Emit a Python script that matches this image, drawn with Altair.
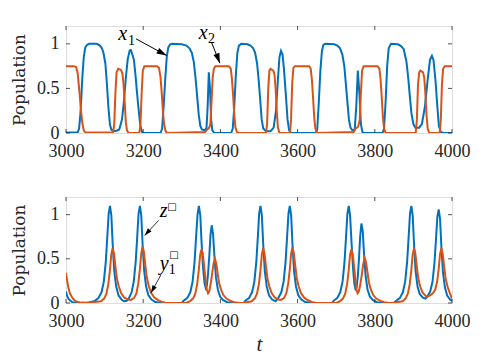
import altair as alt
import pandas as pd

BLUE = "#0072BD"
ORANGE = "#D95319"
AX = "#262626"

XTICKS = [3000, 3200, 3400, 3600, 3800, 4000]
YTICKS = [0, 0.5, 1]

# ---------------- top panel: x1 (blue) ----------------
X1_T = [3000, 3030, 3034, 3038, 3042, 3046, 3050, 3055, 3060, 3080, 3088, 3093, 3097, 3102, 3106, 3110,
        3114, 3118, 3128, 3138, 3145, 3150, 3155, 3160, 3165, 3168, 3172, 3176, 3180, 3184, 3188, 3192,
        3196, 3200, 3245, 3249, 3253, 3257, 3261, 3265, 3270, 3275, 3300, 3312, 3320, 3326, 3331, 3336,
        3340, 3344, 3348, 3352, 3360, 3364, 3367, 3370, 3373, 3376, 3379, 3384, 3428, 3432, 3436, 3440,
        3444, 3448, 3454, 3470, 3478, 3485, 3490, 3495, 3499, 3503, 3507, 3511, 3518, 3530, 3538, 3544,
        3549, 3553, 3557, 3561, 3565, 3570, 3574, 3578, 3583, 3648, 3651, 3655, 3659, 3663, 3667, 3672,
        3695, 3703, 3710, 3716, 3721, 3725, 3729, 3733, 3737, 3742, 3748, 3752, 3756, 3760, 3764, 3768,
        3772, 3820, 3824, 3828, 3832, 3836, 3842, 3860, 3868, 3875, 3882, 3887, 3891, 3895, 3900, 3905,
        3915, 3922, 3930, 3937, 3943, 3948, 3952, 3957, 3962, 3966, 3971, 3980, 4000]
X1_V = [0.005, 0.005, 0.05, 0.25, 0.6, 0.85, 0.96, 0.99, 1.0, 1.0, 0.98, 0.95, 0.9, 0.78, 0.55, 0.28,
        0.09, 0.035, 0.02, 0.04, 0.15, 0.35, 0.62, 0.83, 0.925, 0.93, 0.88, 0.82, 0.65, 0.45, 0.27, 0.1,
        0.02, 0.0, 0.0, 0.05, 0.3, 0.6, 0.85, 0.96, 0.995, 1.0, 0.995, 0.98, 0.95, 0.9, 0.8, 0.6,
        0.4, 0.2, 0.08, 0.04, 0.03, 0.06, 0.3, 0.68, 0.5, 0.15, 0.03, 0.0, 0.0, 0.05, 0.3, 0.65,
        0.9, 0.98, 1.0, 0.995, 0.98, 0.95, 0.9, 0.78, 0.6, 0.38, 0.15, 0.05, 0.02, 0.02, 0.06, 0.25,
        0.6, 0.85, 0.92, 0.88, 0.7, 0.4, 0.15, 0.03, 0.0, 0.0, 0.05, 0.35, 0.7, 0.92, 0.99, 1.0,
        0.995, 0.98, 0.95, 0.88, 0.75, 0.55, 0.35, 0.15, 0.06, 0.03, 0.04, 0.3, 0.70, 0.45, 0.1, 0.01,
        0.0, 0.0, 0.05, 0.35, 0.75, 0.95, 1.0, 0.995, 0.975, 0.94, 0.8, 0.6, 0.4, 0.22, 0.1, 0.06,
        0.06, 0.1, 0.3, 0.6, 0.82, 0.865, 0.82, 0.6, 0.3, 0.08, 0.01, 0.0, 0.0]

# ---------------- top panel: x2 (orange) ----------------
X2_T = [3000, 3020, 3026, 3030, 3034, 3038, 3042, 3046, 3050, 3122, 3125, 3128, 3131, 3135, 3142, 3146,
        3149, 3152, 3155, 3158, 3162, 3190, 3193, 3196, 3199, 3203, 3236, 3241, 3245, 3248, 3251, 3254,
        3258, 3262, 3360, 3366, 3371, 3374, 3377, 3380, 3383, 3387, 3422, 3427, 3430, 3433, 3436, 3439,
        3443, 3447, 3518, 3521, 3524, 3527, 3530, 3537, 3540, 3543, 3546, 3549, 3553, 3580, 3583, 3586,
        3589, 3593, 3630, 3634, 3637, 3640, 3643, 3646, 3650, 3745, 3750, 3757, 3761, 3764, 3767, 3771,
        3807, 3812, 3815, 3818, 3821, 3824, 3828, 3906, 3909, 3912, 3915, 3918, 3925, 3928, 3931, 3934,
        3937, 3941, 3968, 3971, 3974, 3977, 3981, 4000]
X2_V = [0.75, 0.75, 0.74, 0.68, 0.5, 0.3, 0.12, 0.03, 0.005, 0.005, 0.1, 0.45, 0.68, 0.72, 0.71, 0.67,
        0.55, 0.35, 0.12, 0.03, 0.0, 0.0, 0.1, 0.45, 0.7, 0.75, 0.75, 0.73, 0.62, 0.45, 0.25, 0.1,
        0.02, 0.0, 0.01, 0.04, 0.06, 0.1, 0.35, 0.62, 0.72, 0.75, 0.75, 0.72, 0.6, 0.42, 0.2, 0.06,
        0.01, 0.0, 0.0, 0.1, 0.5, 0.7, 0.72, 0.70, 0.66, 0.5, 0.25, 0.06, 0.0, 0.0, 0.15, 0.55,
        0.73, 0.75, 0.75, 0.72, 0.6, 0.4, 0.18, 0.05, 0.0, 0.01, 0.05, 0.07, 0.15, 0.45, 0.7, 0.75,
        0.75, 0.72, 0.6, 0.4, 0.18, 0.05, 0.0, 0.0, 0.15, 0.55, 0.68, 0.70, 0.68, 0.62, 0.45, 0.2,
        0.05, 0.0, 0.0, 0.15, 0.55, 0.72, 0.75, 0.75]

# ---------------- bottom panel: z (blue) ----------------
Z_T = [3000, 3003, 3006, 3010, 3016, 3025, 3060, 3074, 3084, 3092, 3098, 3103, 3107, 3110.5, 3114, 3117.5,
       3121, 3125, 3130, 3136, 3144, 3150, 3157, 3162, 3170, 3175.5, 3180.5, 3184.5, 3188, 3191.5, 3195,
       3198.5, 3202.5, 3207.5, 3213.5, 3221.5, 3231.5, 3245, 3300, 3304, 3314, 3322, 3328, 3333, 3337,
       3341, 3344.3, 3348, 3351, 3355, 3359, 3362, 3365, 3368, 3371.5, 3374.5, 3377.5, 3381, 3384.5,
       3388.5, 3393.5, 3399.5, 3407.5, 3417.5, 3430, 3460, 3464, 3474, 3482, 3488, 3493, 3497, 3500.4,
       3503.9, 3507.4, 3511, 3515, 3520, 3526, 3534, 3543, 3549.8, 3557.8, 3563.8, 3568.8, 3572.8, 3576.3,
       3579.8, 3583.3, 3586.8, 3590.8, 3595.8, 3601.8, 3609.8, 3619.8, 3635, 3690, 3692.5, 3702.5, 3710.5,
       3716.5, 3721.5, 3725.5, 3729, 3732.5, 3736, 3739.5, 3743.5, 3747, 3750, 3753, 3756, 3759, 3762,
       3765.3, 3768.8, 3772.3, 3776.3, 3781.3, 3787.3, 3795.3, 3805.3, 3820, 3850, 3854.7, 3864.7, 3872.7,
       3878.7, 3883.7, 3887.7, 3891.2, 3894.7, 3898.2, 3901.7, 3905.7, 3910.7, 3916.7, 3924.7, 3931, 3936,
       3943.5, 3949.5, 3954.5, 3958.5, 3962, 3965.5, 3969, 3972.5, 3976.5, 3981.5, 3987.5, 3995.5, 4000]
Z_V = [0.13, 0.08, 0.05, 0.03, 0.01, 0.0, 0.005, 0.022, 0.055, 0.121, 0.242, 0.462, 0.748, 1.012, 1.1, 0.99,
       0.66, 0.363, 0.187, 0.088, 0.039, 0.02, 0.025, 0.045, 0.121, 0.242, 0.462, 0.748, 1.012, 1.1, 0.99,
       0.66, 0.363, 0.187, 0.088, 0.039, 0.011, 0.0, 0.0, 0.022, 0.055, 0.121, 0.242, 0.462, 0.748,
       1.012, 1.1, 0.99, 0.7, 0.4, 0.22, 0.17, 0.2, 0.33, 0.55, 0.78, 0.88, 0.78, 0.53,
       0.29, 0.15, 0.07, 0.031, 0.009, 0.0, 0.0, 0.022, 0.055, 0.121, 0.242, 0.462, 0.748, 1.012,
       1.1, 0.99, 0.66, 0.363, 0.187, 0.088, 0.039, 0.02, 0.055, 0.121, 0.242, 0.462, 0.748, 1.012,
       1.1, 0.99, 0.66, 0.363, 0.187, 0.088, 0.039, 0.011, 0.0, 0.0, 0.022, 0.055, 0.121,
       0.242, 0.462, 0.748, 1.012, 1.1, 0.99, 0.7, 0.4, 0.22, 0.16, 0.18, 0.3, 0.5, 0.75,
       0.9, 0.81, 0.54, 0.3, 0.15, 0.072, 0.032, 0.009, 0.0, 0.0, 0.022, 0.055, 0.121,
       0.242, 0.462, 0.748, 1.012, 1.1, 0.99, 0.66, 0.363, 0.187, 0.1, 0.06, 0.05, 0.07,
       0.13, 0.24, 0.45, 0.72, 0.975, 1.06, 0.954, 0.636, 0.35, 0.18, 0.085, 0.037, 0.025]

# ---------------- bottom panel: y1 (orange) ----------------
Y1_T = [3000, 3003, 3006, 3010, 3015, 3020, 3025, 3035, 3050, 3090.8, 3098.8, 3104.8, 3109.8, 3113.8, 3117.3,
        3120.8, 3124.3, 3127.8, 3131.8, 3136.8, 3142.8, 3150.8, 3160.8, 3168.4, 3176.4, 3182.4, 3187.4,
        3191.4, 3194.9, 3198.4, 3201.9, 3205.4, 3209.4, 3214.4, 3220.4, 3228.4, 3238.4, 3248.4, 3258.4,
        3270, 3310, 3321, 3329, 3335, 3340, 3344, 3347.7, 3351.2, 3354.7, 3358, 3362, 3365, 3368, 3371,
        3374, 3378, 3382, 3385.7, 3389.2, 3392.7, 3396.7, 3401.7, 3407.7, 3415.7, 3425.7, 3435.7, 3445.7,
        3460, 3480.8, 3488.8, 3494.8, 3499.8, 3503.8, 3507.3, 3510.8, 3514.3, 3517.8, 3521.8, 3526.8,
        3532.8, 3540.8, 3550.8, 3556.7, 3564.7, 3570.7, 3575.7, 3579.7, 3583.2, 3586.7, 3590.2, 3593.7,
        3597.7, 3602.7, 3608.7, 3616.7, 3626.7, 3636.7, 3646.7, 3660, 3700, 3709.4, 3717.4, 3723.4, 3728.4,
        3732.4, 3735.9, 3739.4, 3742.9, 3746.4, 3750, 3753, 3755.5, 3758.5, 3762, 3766, 3770, 3773.9,
        3777.4, 3780.9, 3784.9, 3789.9, 3795.9, 3803.9, 3813.9, 3823.9, 3833.9, 3845, 3871.6, 3879.6,
        3885.6, 3890.6, 3894.6, 3898.1, 3901.6, 3905.1, 3908.6, 3912.6, 3917.6, 3923.6, 3931.6, 3936,
        3942.4, 3950.4, 3956.4, 3961.4, 3965.4, 3968.9, 3972.4, 3975.9, 3979.4, 3983.4, 3988.4, 3994.4, 4000]
Y1_V = [0.34, 0.25, 0.18, 0.11, 0.07, 0.04, 0.02, 0.006, 0.0, 0.019, 0.05, 0.105, 0.217, 0.372, 0.546,
        0.62, 0.558, 0.422, 0.279, 0.186, 0.112, 0.062, 0.04, 0.035, 0.058, 0.109, 0.224,
        0.384, 0.563, 0.64, 0.576, 0.435, 0.288, 0.192, 0.115, 0.064, 0.032, 0.013, 0.003,
        0.0, 0.0, 0.019, 0.05, 0.105, 0.217, 0.372, 0.546, 0.61, 0.55, 0.41, 0.25, 0.15, 0.11, 0.13,
        0.2, 0.31, 0.44, 0.50, 0.45, 0.34, 0.225, 0.15, 0.09, 0.05, 0.025, 0.01, 0.002,
        0.0, 0.019, 0.05, 0.105, 0.217, 0.372, 0.546, 0.62, 0.558, 0.422, 0.279, 0.186,
        0.112, 0.062, 0.04, 0.035, 0.055, 0.107, 0.22, 0.378, 0.555, 0.63, 0.567, 0.428,
        0.284, 0.189, 0.113, 0.063, 0.031, 0.012, 0.003, 0.0, 0.0, 0.019, 0.05, 0.105, 0.217,
        0.372, 0.546, 0.61, 0.55, 0.41, 0.25, 0.14, 0.11, 0.13, 0.2, 0.31, 0.44, 0.51,
        0.46, 0.35, 0.23, 0.15, 0.09, 0.05, 0.025, 0.01, 0.002, 0.0, 0.019, 0.05,
        0.105, 0.217, 0.372, 0.546, 0.62, 0.558, 0.422, 0.279, 0.186, 0.12, 0.08, 0.075,
        0.085, 0.11, 0.15, 0.24, 0.38, 0.55, 0.62, 0.558, 0.422, 0.279, 0.186, 0.112, 0.05]

# ---------------- annotations ----------------
TOP_LETTERS = ["x", "x"]
TOP_LETTER_T = [3146.7, 3355.1]
TOP_LETTER_V = [1.045, 1.056]
TOP_SUBS = ["1", "2"]
TOP_SUB_T = [3170, 3377.1]
TOP_SUB_V = [0.985, 1.005]
TOP_ARROW_T = [3181.4, 3377.1]
TOP_ARROW_V = [1.056, 1.015]
TOP_ARROW_T2 = [3260.6, 3398.6]
TOP_ARROW_V2 = [0.869, 0.783]
TOP_ARROW_ANG = [118, 160]

BOT_LETTERS = ["z", "y"]
BOT_LETTER_T = [3252.8, 3254.5]
BOT_LETTER_V = [0.969, 0.374]
BOT_SUBS = ["1"]
BOT_SUB_T = [3275]
BOT_SUB_V = [0.33]
BOT_SUPS = ["□", "□"]
BOT_SUP_T = [3274.5, 3280]
BOT_SUP_V = [1.089, 0.54]
BOT_ARROW_T = [3239.9, 3245.9]
BOT_ARROW_V = [0.935, 0.317]
BOT_ARROW_T2 = [3203.7, 3220]
BOT_ARROW_V2 = [0.763, 0.114]
BOT_ARROW_ANG = [222, 209]

W = 386
H_TOP = 107
H_BOT = 106

XS = alt.Scale(domain=[3000, 4000], nice=False, zero=False)
YS = alt.Scale(domain=[0, 1.2], nice=False, zero=False)

TICK_FONT = "Liberation Serif"


def xaxis(title):
    kw = dict(values=XTICKS, labelExpr="datum.value", ticks=False, domain=False, grid=False,
              labelFlush=False, labelOverlap=False,
              labelFont=TICK_FONT, labelFontSize=18, labelColor=AX, labelPadding=9)
    if title:
        kw.update(title=title, titleFont="Liberation Serif", titleFontStyle="italic",
                  titleFontSize=21, titleFontWeight="normal", titleColor=AX, titlePadding=3)
    else:
        kw.update(title=None)
    return alt.Axis(**kw)


def yaxis():
    return alt.Axis(values=YTICKS, labelExpr="datum.value", ticks=False, domain=False, grid=False,
                    labelFlush=False, labelOverlap=False,
                    labelFont=TICK_FONT, labelFontSize=18, labelColor=AX, labelPadding=7,
                    title="Population", titleFont="DejaVu Serif", titleFontSize=17,
                    titleFontWeight="normal", titleColor=AX, titlePadding=8)


def panel(series, letters, subs, sups, arrows, height, xtitle):
    X = lambda f="t": alt.X(f + ":Q", scale=XS, axis=xaxis(xtitle))
    Y = lambda f="v": alt.Y(f + ":Q", scale=YS, axis=yaxis())
    layers = []
    for t, v, col in series:
        d = pd.DataFrame({"t": t, "v": v})
        layers.append(alt.Chart(d).mark_line(color=col, strokeWidth=2, clip=True)
                      .encode(x=X(), y=Y()))
    # inward ticks on all four sides
    xt = pd.DataFrame({"t": XTICKS})
    yt = pd.DataFrame({"v": YTICKS})
    layers.append(alt.Chart(xt).mark_rule(color=AX, strokeWidth=0.8)
                  .encode(x=X(), y=alt.value(height), y2=alt.value(height - 4)))
    layers.append(alt.Chart(xt).mark_rule(color=AX, strokeWidth=0.8)
                  .encode(x=X(), y=alt.value(0), y2=alt.value(4)))
    layers.append(alt.Chart(yt).mark_rule(color=AX, strokeWidth=0.8)
                  .encode(y=Y(), x=alt.value(0), x2=alt.value(4)))
    layers.append(alt.Chart(yt).mark_rule(color=AX, strokeWidth=0.8)
                  .encode(y=Y(), x=alt.value(W - 4), x2=alt.value(W)))
    # arrows
    at, av, at2, av2, ang, aw, hs = arrows
    ad = pd.DataFrame({"t": at, "v": av, "t2": at2, "v2": av2, "ang": ang})
    layers.append(alt.Chart(ad).mark_rule(color="black", strokeWidth=aw)
                  .encode(x=X(), y=Y(), x2="t2:Q", y2="v2:Q"))
    layers.append(alt.Chart(ad).mark_point(shape="M0,0 L-0.6,1.9 L0.6,1.9 Z", filled=True,
                                            color="black", opacity=1, size=hs)
                  .encode(x=X("t2"), y=Y("v2"), angle=alt.Angle("ang:Q", scale=None)))
    # texts
    lt, lx, lv, lfs = letters
    layers.append(alt.Chart(pd.DataFrame({"t": lx, "v": lv, "s": lt}))
                  .mark_text(font="Liberation Serif", fontStyle="italic", fontSize=lfs,
                             align="center", baseline="alphabetic", color="black")
                  .encode(x=X(), y=Y(), text="s:N"))
    st, sx, sv = subs
    layers.append(alt.Chart(pd.DataFrame({"t": sx, "v": sv, "s": st}))
                  .mark_text(font="Liberation Serif", fontSize=14, align="center",
                             baseline="alphabetic", color="black")
                  .encode(x=X(), y=Y(), text="s:N"))
    if sups is not None:
        pt, px, pv = sups
        layers.append(alt.Chart(pd.DataFrame({"t": px, "v": pv, "s": pt}))
                      .mark_text(font="DejaVu Sans", fontSize=10, align="center",
                                 baseline="middle", color="black")
                      .encode(x=X(), y=Y(), text="s:N"))
    return alt.layer(*layers).properties(width=W, height=height)


top = panel([(X1_T, X1_V, BLUE), (X2_T, X2_V, ORANGE)],
            (TOP_LETTERS, TOP_LETTER_T, TOP_LETTER_V, 20),
            (TOP_SUBS, TOP_SUB_T, TOP_SUB_V), None,
            (TOP_ARROW_T, TOP_ARROW_V, TOP_ARROW_T2, TOP_ARROW_V2, TOP_ARROW_ANG, 1.0, 110),
            H_TOP, None)

bot = panel([(Z_T, Z_V, BLUE), (Y1_T, Y1_V, ORANGE)],
            (BOT_LETTERS, BOT_LETTER_T, BOT_LETTER_V, 20),
            (BOT_SUBS, BOT_SUB_T, BOT_SUB_V), (BOT_SUPS, BOT_SUP_T, BOT_SUP_V),
            (BOT_ARROW_T, BOT_ARROW_V, BOT_ARROW_T2, BOT_ARROW_V2, BOT_ARROW_ANG, 0.8, 64),
            H_BOT, "t")

chart = (alt.vconcat(top, bot, spacing=35)
         .properties(padding={"left": 2, "top": 14, "right": 0, "bottom": 0})
         .configure_view(stroke=AX, strokeWidth=0.8)
         .configure(background="white"))

chart.save("out.html", embed_options={"renderer": "svg", "actions": False})
